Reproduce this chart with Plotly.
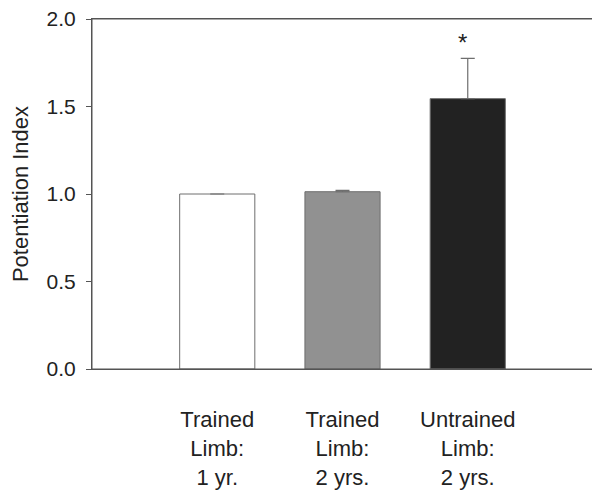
import plotly.graph_objects as go

# Datos
grupos = ["Trained<br>Limb:<br>1 yr.", "Trained<br>Limb:<br>2 yrs.", "Untrained<br>Limb:<br>2 yrs."]
posiciones = [0, 1, 2]
indice = [1.0, 1.013, 1.545]
error_sup = [None, 0.008, 0.23]
colores = ["#ffffff", "#919191", "#222222"]
marca = ["", "", "*"]

fig = go.Figure()
fig.add_trace(go.Bar(
    x=posiciones, y=indice, width=0.6,
    marker=dict(color=colores, line=dict(color="#6e6e6e", width=1)),
    error_y=dict(type="data", array=error_sup, symmetric=False, arrayminus=[0, 0, 0],
                 color="#6e6e6e", thickness=1.2, width=7),
    showlegend=False, hoverinfo="y",
))

# Asterisco de significancia sobre la barra
for x, y, e, m in zip(posiciones, indice, error_sup, marca):
    if m:
        fig.add_annotation(x=x, y=y + e, text=m, showarrow=False, yshift=16, xshift=-5,
                           font=dict(size=24, color="#222222"))

# Marco completo del area de datos
fig.add_shape(type="rect", xref="paper", yref="paper", x0=0, y0=0, x1=1, y1=1,
              line=dict(color="#555555", width=1), layer="above")

# la pagina deja ~8px de margen, se compensa con margenes mas chicos
fig.update_layout(
    width=600, height=497,
    margin=dict(l=84, r=15, t=11, b=136),
    plot_bgcolor="white", paper_bgcolor="white",
    font=dict(family="Liberation Sans, Arial, sans-serif", size=20, color="#222222"),
)
fig.update_xaxes(
    range=[-1, 3], tickvals=posiciones, ticktext=grupos, ticks="",
    ticklabelstandoff=31, automargin=False, ticklabeloverflow="allow",
    showline=True, linecolor="#555555", linewidth=1, mirror=True,
    showgrid=False, zeroline=False, tickfont=dict(size=22),
)
fig.update_yaxes(
    range=[0, 2.0], tickvals=[0, 0.5, 1.0, 1.5, 2.0], tickformat=".1f",
    ticks="outside", ticklen=5, tickcolor="#555555", tickfont=dict(size=21),
    ticklabelstandoff=6, automargin=False, ticklabeloverflow="allow",
    showline=True, linecolor="#555555", linewidth=1, mirror=True,
    showgrid=False, zeroline=False,
    title=dict(text="Potentiation Index", standoff=14, font=dict(size=22)),
)

fig.write_html("out.html")
